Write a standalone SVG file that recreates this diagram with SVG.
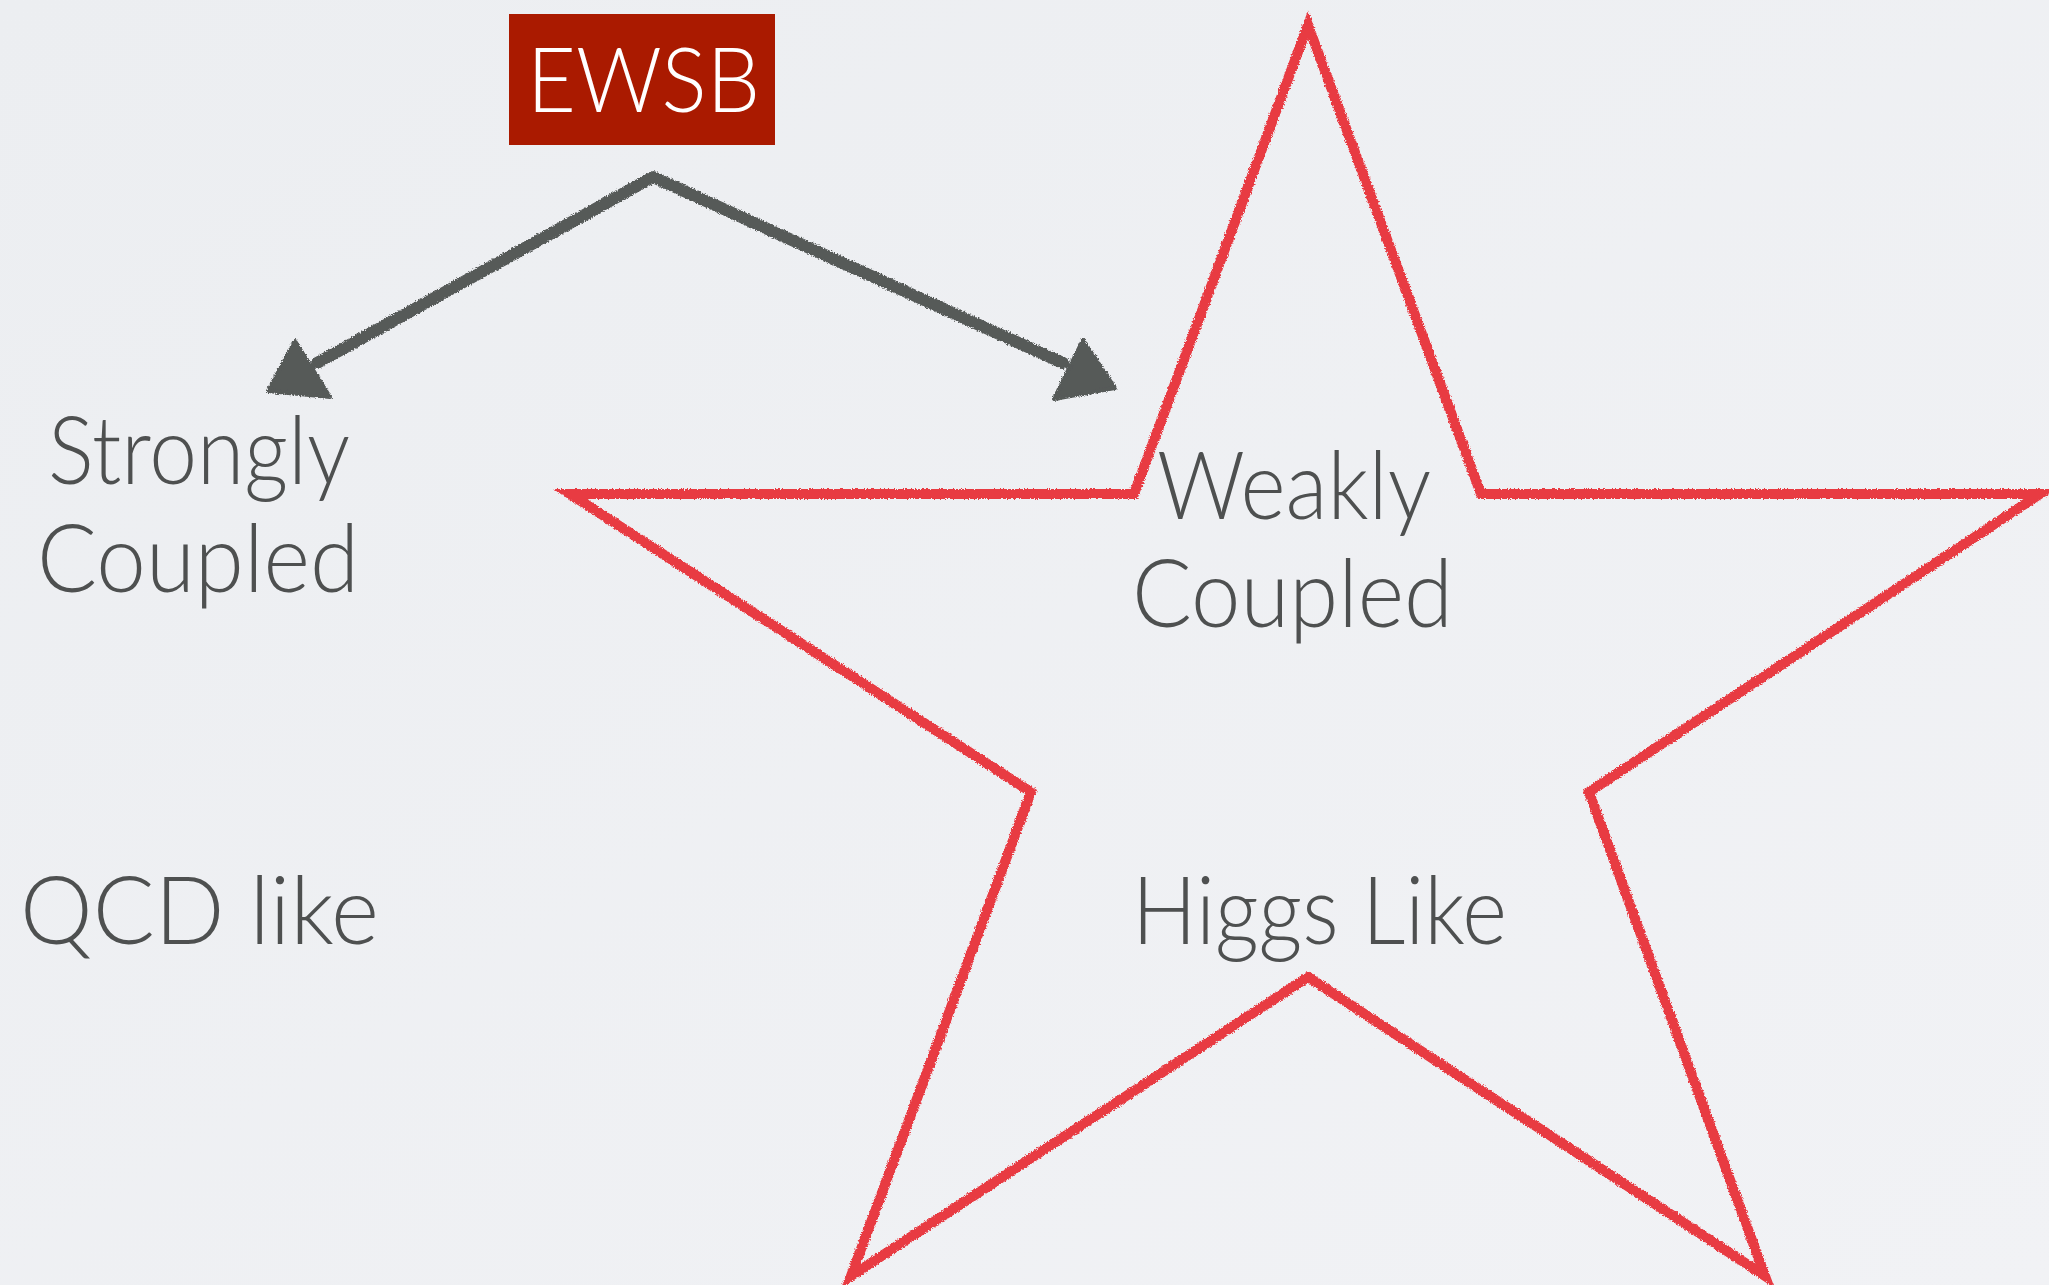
<svg xmlns="http://www.w3.org/2000/svg" width="2049" height="1285" viewBox="0 0 2049 1285">
  <defs>
    <style>
      .lbl { font-family: Lato, "Open Sans", "Liberation Sans", sans-serif; font-weight: 300; font-size: 95px; fill: #4e5050; }
      .box-txt { font-family: Lato, "Open Sans", "Liberation Sans", sans-serif; font-weight: 300; font-size: 90px; fill: #ffffff; }
      .conn { fill: none; stroke: #565a59; stroke-width: 12; stroke-linejoin: round; stroke-linecap: round; }
      .head { fill: #565a59; stroke: #565a59; stroke-width: 4; stroke-linejoin: round; }
      .star { fill: none; stroke: #e83a43; stroke-width: 10; stroke-linejoin: miter; stroke-miterlimit: 20; }
    </style>
    <linearGradient id="bg" x1="0" y1="0" x2="1" y2="1">
      <stop offset="0" stop-color="#eceef1"/>
      <stop offset="1" stop-color="#f1f2f5"/>
    </linearGradient>
    <filter id="crayon" x="-5%" y="-5%" width="110%" height="110%">
      <feTurbulence type="fractalNoise" baseFrequency="0.7" numOctaves="2" seed="3" result="n"/>
      <feDisplacementMap in="SourceGraphic" in2="n" scale="4" xChannelSelector="R" yChannelSelector="G"/>
    </filter>
  </defs>
  <rect x="0" y="0" width="2049" height="1285" fill="url(#bg)"/>

  <g id="star" filter="url(#crayon)">
    <polygon class="star" points="1308,25 1481,494 2040,494 1589,792 1765,1276 1308,977 851,1276 1031,792 570,494 1134,494"/>
  </g>

  <g id="connectors" filter="url(#crayon)">
    <path class="conn" d="M 317 363 L 653 177 L 1063 363"/>
    <polygon class="head" points="295,341 268,391 330,397"/>
    <polygon class="head" points="1083,340 1054,399 1115,388"/>
  </g>

  <g id="node-ewsb">
    <rect x="509" y="14" width="266" height="131" fill="#aa1a00"/>
    <text class="box-txt" x="527" y="112" textLength="233" lengthAdjust="spacingAndGlyphs">EWSB</text>
  </g>

  <g id="node-strong">
    <text class="lbl" x="48" y="484" textLength="302" lengthAdjust="spacingAndGlyphs">Strongly</text>
    <text class="lbl" x="37" y="592" textLength="322" lengthAdjust="spacingAndGlyphs">Coupled</text>
  </g>

  <g id="node-qcd">
    <text class="lbl" x="20" y="944" textLength="359" lengthAdjust="spacingAndGlyphs">QCD like</text>
  </g>

  <g id="node-weak">
    <text class="lbl" x="1157" y="519" textLength="274" lengthAdjust="spacingAndGlyphs">Weakly</text>
    <text class="lbl" x="1132" y="627" textLength="321" lengthAdjust="spacingAndGlyphs">Coupled</text>
  </g>

  <g id="node-higgs">
    <text class="lbl" x="1132" y="944" textLength="375" lengthAdjust="spacingAndGlyphs">Higgs Like</text>
  </g>
</svg>
